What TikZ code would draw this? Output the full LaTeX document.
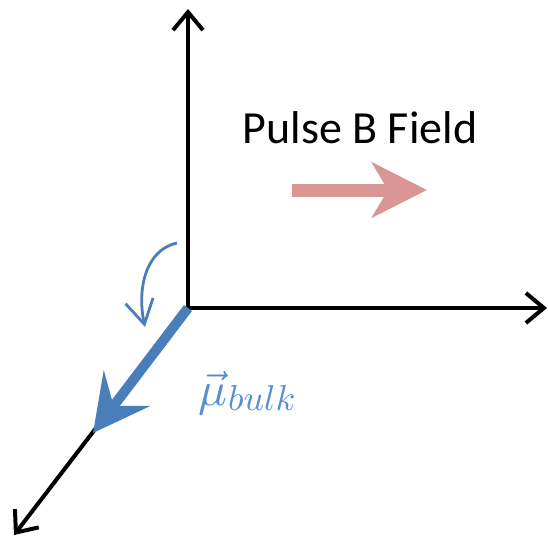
\documentclass[tikz,border=0pt]{standalone}
\usepackage{graphicx}
\usepackage{fontspec}
\setmainfont{Carlito}
\usetikzlibrary{arrows.meta}
\definecolor{bluearr}{HTML}{4A7EBB}
\definecolor{bluetxt}{HTML}{558ED5}
\definecolor{redarr}{HTML}{DA9694}
\begin{document}
\begin{tikzpicture}[x=1pt,y=-1pt,
  axis/.style={line width=4pt,black,-{Straight Barb[length=18pt,width=30pt,line width=4pt]}},
  bigblue/.style={line width=10pt,bluearr,line cap=butt,-{Stealth[length=56pt,width=58pt,inset=22pt]}},
  curlarr/.style={line width=2.8pt,bluearr,-{Straight Barb[length=24pt,width=28pt,line width=2.8pt]}},
  redshaft/.style={line width=13pt,redarr,-{Stealth[length=55pt,width=55pt,inset=16pt]}}]
\useasboundingbox (0,0) rectangle (548,540);
\coordinate (O) at (188,308);
\coordinate (Up) at (188,9);
\coordinate (Right) at (547,308);
\coordinate (Diag) at (14,535);
\coordinate (Btip) at (93,433);
\coordinate (Cs) at (177,243);
\coordinate (Ce) at (145,327);
\coordinate (Rs) at (292,190);
\coordinate (Re) at (427,190);
\draw[axis] (O) -- (Up);
\draw[axis] (O) -- (Right);
\draw[axis] (O) -- (Diag);
\draw[bigblue] (O) -- (Btip);
\draw[curlarr] (Cs) .. controls (145,250) and (137,290) .. (Ce);
\draw[redshaft] (Rs) -- (Re);
\node[font=\fontsize{46}{55}\selectfont, anchor=center] (title) at (360,128) {Pulse B Field};
\node[text=bluetxt, anchor=base west, inner sep=0pt] (mu) at (198,405)
  {\scalebox{4.8}{$\vec{\mu}$}\kern1pt\raisebox{-5pt}{\scalebox{3.6}{$bulk$}}};
\end{tikzpicture}
\end{document}
